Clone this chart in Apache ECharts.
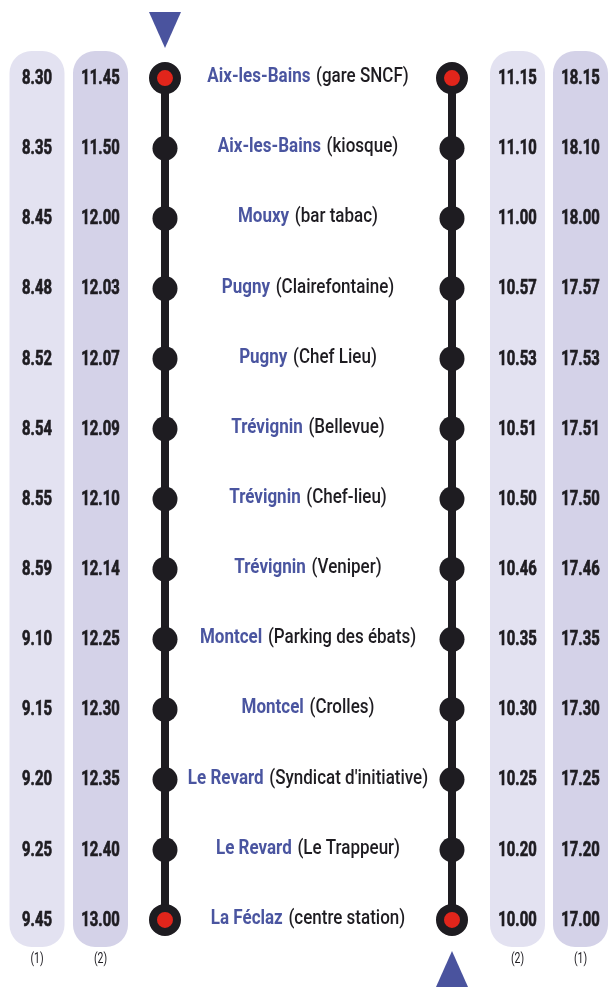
<!DOCTYPE html>
<html>
<head>
<meta charset="utf-8">
<script src="https://cdn.jsdelivr.net/npm/echarts@6/dist/echarts.min.js"></script>
<style>
html,body{margin:0;padding:0;background:#fff;}
#chart{width:613px;height:993px;}
</style>
</head>
<body>
<div id="chart"></div>
<script>
const stationNames = ['Aix-les-Bains','Aix-les-Bains','Mouxy','Pugny','Pugny','Trévignin','Trévignin','Trévignin','Montcel','Montcel','Le Revard','Le Revard','La Féclaz'];
const stationDetails = ['(gare SNCF)','(kiosque)','(bar tabac)','(Clairefontaine)','(Chef Lieu)','(Bellevue)','(Chef-lieu)','(Veniper)','(Parking des ébats)','(Crolles)',"(Syndicat d'initiative)",'(Le Trappeur)','(centre station)'];
const outbound1 = ['8.30','8.35','8.45','8.48','8.52','8.54','8.55','8.59','9.10','9.15','9.20','9.25','9.45'];
const outbound2 = ['11.45','11.50','12.00','12.03','12.07','12.09','12.10','12.14','12.25','12.30','12.35','12.40','13.00'];
const return2 = ['11.15','11.10','11.00','10.57','10.53','10.51','10.50','10.46','10.35','10.30','10.25','10.20','10.00'];
const return1 = ['18.15','18.10','18.00','17.57','17.53','17.51','17.50','17.46','17.35','17.30','17.25','17.20','17.00'];
const columnNotes = ['(1)','(2)','(2)','(1)'];

const FONT = 'Roboto, "DejaVu Sans", sans-serif';
const stations = stationNames.map((n, i) => n + ' ' + stationDetails[i]);
const first = stations[0], last = stations[stations.length - 1];

const colX = [37, 100.5, 517.5, 580.5];
const colFill = ['#e3e2f1', '#d4d2e8', '#e3e2f1', '#d4d2e8'];
const colTimes = [outbound1, outbound2, return2, return1];
const lineX = [165, 452];
const textX = 308;
const DARK = '#1e1c21';
const BLUE = '#4a55a0';

function textSeries(data, styleFn, dy, sx, z) {
  return {
    type: 'custom', silent: true, z: z || 6,
    data: data,
    renderItem: function (params, api) {
      const p = api.coord([api.value(0), api.value(1)]);
      const st = styleFn(params.dataIndex);
      st.align = 'center';
      st.verticalAlign = 'middle';
      return { type: 'text', x: p[0], y: p[1] + (dy || 0), scaleX: sx, style: st };
    }
  };
}

const series = [];

// pills
series.push({
  type: 'custom', silent: true, z: 1,
  data: colX.map((x, i) => [x, i]),
  renderItem: function (params, api) {
    const i = api.value(1);
    const x = colX[i];
    const top = api.coord([x, first]);
    const bot = api.coord([x, last]);
    const w = 55;
    return {
      type: 'rect',
      shape: { x: top[0] - w / 2, y: top[1] - 27, width: w, height: bot[1] - top[1] + 54, r: 22 },
      style: { fill: colFill[i] }
    };
  }
});

// times
colTimes.forEach((arr, c) => {
  series.push(textSeries(
    arr.map((t, i) => [colX[c], i]),
    i => ({ text: arr[i], fontFamily: FONT, fontWeight: 'bold', fontSize: 19.5, fill: DARK, stroke: DARK, lineWidth: 0.7 }),
    1, 0.76
  ));
});

// column notes
series.push(textSeries(
  columnNotes.map((n, c) => [colX[c], stations.length - 1]),
  i => ({ text: columnNotes[i], fontFamily: FONT, fontSize: 14, fill: DARK }),
  40, 0.75
));

// route lines with stop dots
lineX.forEach(x => {
  series.push({
    type: 'line', silent: true, z: 3,
    data: stations.map(s => [x, s]),
    symbol: 'circle', symbolSize: 25,
    itemStyle: { color: DARK, opacity: 1 },
    lineStyle: { color: DARK, width: 8, opacity: 1 }
  });
  series.push({
    type: 'scatter', silent: true, z: 4,
    data: [[x, first], [x, last]],
    symbol: 'circle', symbolSize: 24,
    itemStyle: { color: '#e1251b', borderColor: DARK, borderWidth: 8, opacity: 1 }
  });
});

// direction triangles
series.push({
  type: 'scatter', silent: true, z: 4,
  data: [[lineX[0], first]],
  symbol: 'triangle', symbolSize: [32, 36], symbolRotate: 180, symbolOffset: [0, -48],
  itemStyle: { color: '#4a539e', opacity: 1 }
});
series.push({
  type: 'scatter', silent: true, z: 4,
  data: [[lineX[1], last]],
  symbol: 'triangle', symbolSize: [32, 36], symbolOffset: [0, 49],
  itemStyle: { color: '#4a539e', opacity: 1 }
});

// station labels
series.push(textSeries(
  stations.map((s, i) => [textX, i]),
  i => ({
    text: '{b|' + stationNames[i] + '}  {n|' + stationDetails[i] + '}',
    rich: {
      b: { fontFamily: FONT, fontWeight: 'bold', fontSize: 20, fill: BLUE, color: BLUE },
      n: { fontFamily: FONT, fontWeight: 500, fontSize: 20, fill: DARK, color: DARK }
    }
  }),
  -1, 0.85
));

const chart = echarts.init(document.getElementById('chart'), null, { renderer: 'canvas' });
chart.setOption({
  animation: false,
  backgroundColor: '#ffffff',
  grid: { left: 0, top: 43, width: 613, height: 912, containLabel: false },
  xAxis: { type: 'value', min: 0, max: 613, show: false },
  yAxis: { type: 'category', data: stations, inverse: true, show: false },
  series: series
});
</script>
</body>
</html>
